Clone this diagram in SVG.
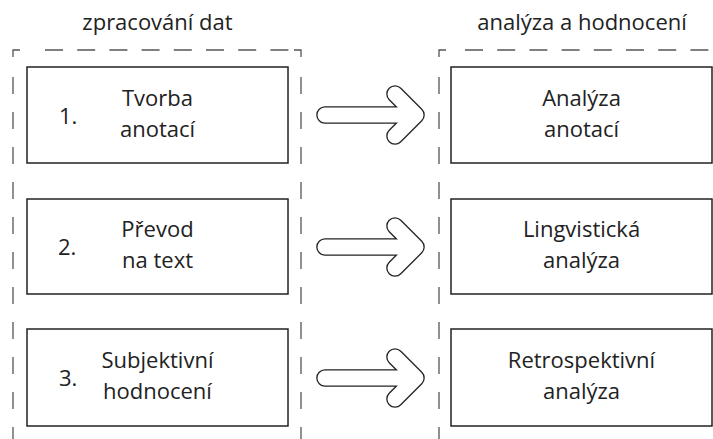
<svg xmlns="http://www.w3.org/2000/svg" width="713" height="439" viewBox="0 0 713 439">
<style>
  .bg{fill:#fff}
  .box{fill:#fff;stroke:#222;stroke-width:1.5}
  .dash{fill:none;stroke:#555;stroke-width:1.3}
  .dh{stroke-dasharray:18 14.2}
  .dv{stroke-dasharray:17 18}
  .t{font-family:"Open Sans","Noto Sans",sans-serif;font-size:22px;fill:#222;text-anchor:middle}
  .n{font-family:"Open Sans","Noto Sans",sans-serif;font-size:22px;fill:#222}
  .ao{fill:none;stroke:#222;stroke-width:17.6;stroke-linecap:round;stroke-linejoin:round}
  .ai{fill:none;stroke:#fff;stroke-width:15;stroke-linecap:round;stroke-linejoin:round}
</style>
<rect class="bg" x="0" y="0" width="713" height="439"/>
<g id="group-left">
  <text class="t" x="157.5" y="30">zpracování dat</text>
  <path class="dash" d="M13,57 V50 H20 M294,50 H301 V57"/>
  <line class="dash dh" x1="45" y1="50" x2="292" y2="50"/>
  <line class="dash dv" x1="13" y1="77" x2="13" y2="439"/>
  <line class="dash dv" x1="301" y1="77" x2="301" y2="439"/>
</g>
<g id="group-right">
  <text class="t" x="582" y="30">analýza a hodnocení</text>
  <path class="dash" d="M439,57 V50 H446"/>
  <line class="dash dh" x1="465" y1="50" x2="713" y2="50"/>
  <line class="dash dv" x1="439" y1="77" x2="439" y2="439"/>
</g>
<g id="node-1">
  <rect class="box" x="27" y="67" width="261" height="96"/>
  <text class="n" x="59" y="124">1.</text>
  <text class="t" x="157.5" y="106">Tvorba</text>
  <text class="t" x="157.5" y="137">anotací</text>
</g>
<g id="node-2">
  <rect class="box" x="27" y="199" width="261" height="95"/>
  <text class="n" x="58" y="255">2.</text>
  <text class="t" x="157.5" y="237">Převod</text>
  <text class="t" x="157.5" y="268">na text</text>
</g>
<g id="node-3">
  <rect class="box" x="27" y="329" width="261" height="97"/>
  <text class="n" x="59" y="386">3.</text>
  <text class="t" x="157.5" y="368">Subjektivní</text>
  <text class="t" x="157.5" y="399">hodnocení</text>
</g>
<g id="node-4">
  <rect class="box" x="451" y="67" width="261" height="96"/>
  <text class="t" x="581.5" y="106">Analýza</text>
  <text class="t" x="581.5" y="137">anotací</text>
</g>
<g id="node-5">
  <rect class="box" x="451" y="199" width="261" height="95"/>
  <text class="t" x="581.5" y="237">Lingvistická</text>
  <text class="t" x="581.5" y="268">analýza</text>
</g>
<g id="node-6">
  <rect class="box" x="451" y="329" width="261" height="97"/>
  <text class="t" x="581.5" y="368">Retrospektivní</text>
  <text class="t" x="581.5" y="399">analýza</text>
</g>
<g id="connectors">
  <path class="ao" d="M325,115 H416 M395,94 L416,115 L395,136"/>
  <path class="ai" d="M325,115 H416 M395,94 L416,115 L395,136"/>
  <path class="ao" d="M325,247 H416 M395,226 L416,247 L395,268"/>
  <path class="ai" d="M325,247 H416 M395,226 L416,247 L395,268"/>
  <path class="ao" d="M325,378 H416 M395,357 L416,378 L395,399"/>
  <path class="ai" d="M325,378 H416 M395,357 L416,378 L395,399"/>
</g>
</svg>
